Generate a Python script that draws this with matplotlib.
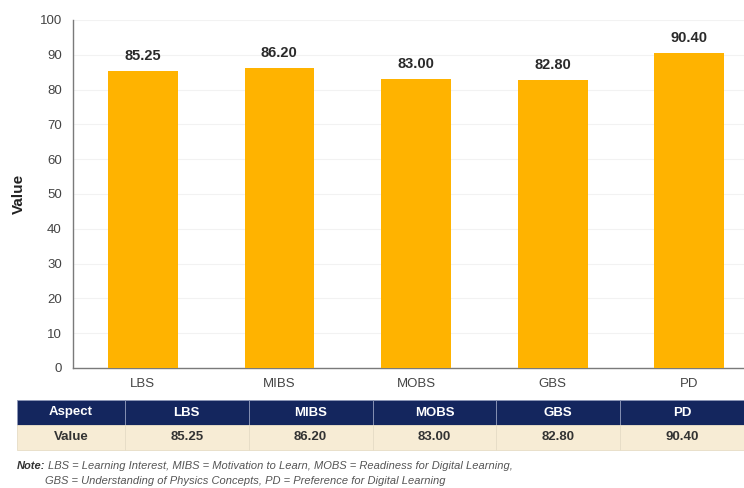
import numpy as np
import matplotlib.pyplot as plt

aspects = ['LBS', 'MIBS', 'MOBS', 'GBS', 'PD']
values = [85.25, 86.20, 83.00, 82.80, 90.40]
yticks = [0, 10, 20, 30, 40, 50, 60, 70, 80, 90, 100]

plt.rcParams['font.family'] = ['Liberation Sans', 'DejaVu Sans']

W, H = 744, 488
fig = plt.figure(figsize=(W / 100, H / 100), dpi=100)

# main bar chart
ax = fig.add_axes([73 / W, 1 - 368 / H, (W - 73) / W, 348 / H])
x = np.arange(len(aspects))
bars = ax.bar(x, values, width=0.51, color='#ffb300', zorder=3)
for b, v in zip(bars, values):
    ax.text(b.get_x() + b.get_width() / 2, v + 2.4, f'{v:.2f}', ha='center', va='bottom',
            fontsize=10.5, fontweight='bold', color='#2a2a2a')
ax.set_xlim(-0.51, 4.40)
ax.set_ylim(0, 100)
ax.set_yticks(yticks)
ax.set_xticks(x)
ax.set_xticklabels(aspects)
ax.tick_params(axis='both', length=0, labelsize=9.5, colors='#444444')
ax.tick_params(axis='x', pad=7)
ax.tick_params(axis='y', pad=8)
ax.grid(axis='y', color='#f2f2f2', linewidth=0.8, zorder=0)
for s in ['top', 'right']:
    ax.spines[s].set_visible(False)
for s in ['left', 'bottom']:
    ax.spines[s].set_color('#7a7a7a')
    ax.spines[s].set_linewidth(1.0)
ax.set_ylabel('Value', fontsize=11, fontweight='bold', color='#222222', labelpad=10)

# summary table
tax = fig.add_axes([17 / W, 1 - 450 / H, (W - 17) / W, 50 / H])
tax.axis('off')
cells = [['Aspect'] + aspects, ['Value'] + [f'{v:.2f}' for v in values]]
col_w = [108] + [124] * len(aspects)
col_w = [c / sum(col_w) for c in col_w]
tbl = tax.table(cellText=cells, cellLoc='center', colWidths=col_w, bbox=[0, 0, 1, 1])
for (r, c), cell in tbl.get_celld().items():
    cell.set_linewidth(0.6)
    if r == 0:
        cell.set_facecolor('#14265e')
        cell.set_edgecolor('#8d97b8')
        cell.get_text().set_color('white')
    else:
        cell.set_facecolor('#f7ecd5')
        cell.set_edgecolor('#e6dcc6')
        cell.get_text().set_color('#333333')
    cell.get_text().set_fontweight('bold')
    cell.get_text().set_fontsize(9.5)

# note
note = fig.text(17 / W, 1 - 466 / H, 'Note:', fontsize=8, fontweight='bold', style='italic',
                color='#333333', va='center')
fig.canvas.draw()
bb = note.get_window_extent()
fig.text(bb.x1 / W + 3 / W, 1 - 466 / H,
         'LBS = Learning Interest, MIBS = Motivation to Learn, MOBS = Readiness for Digital Learning,',
         fontsize=8, style='italic', color='#555555', va='center')
fig.text(45 / W, 1 - 481 / H,
         'GBS = Understanding of Physics Concepts, PD = Preference for Digital Learning',
         fontsize=8, style='italic', color='#555555', va='center')

fig.savefig('out.png', dpi=100)
